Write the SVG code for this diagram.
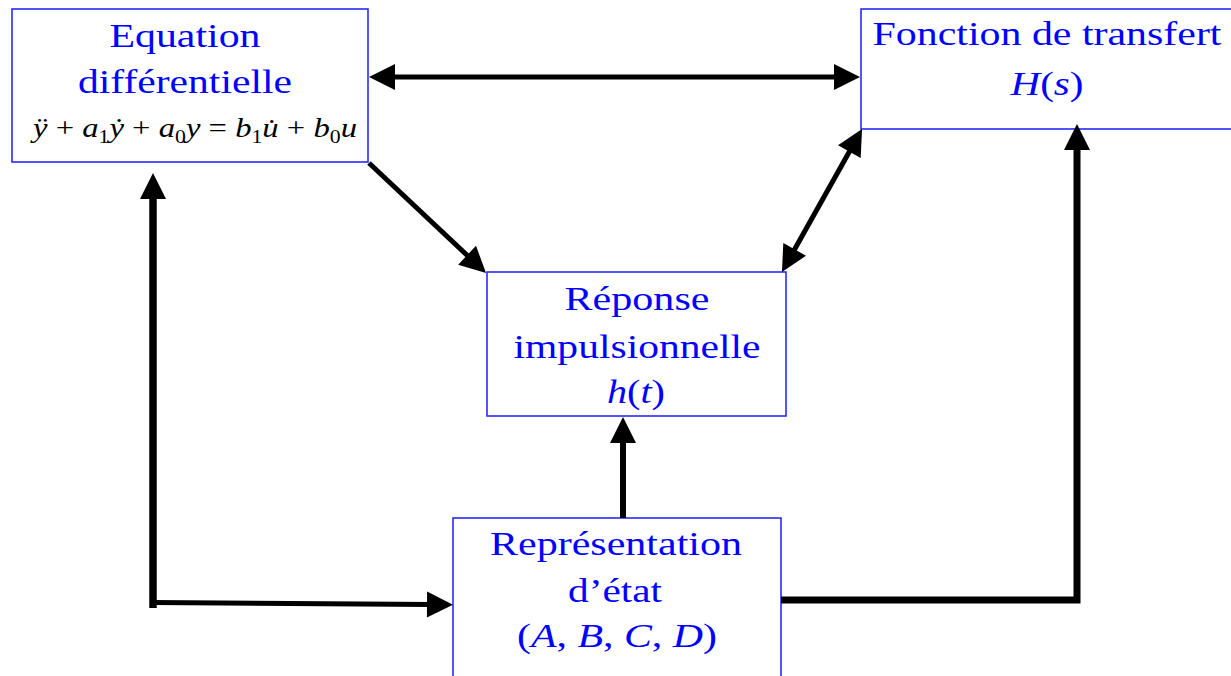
<svg xmlns="http://www.w3.org/2000/svg" width="1231" height="676" viewBox="0 0 1231 676">
  <style>
    .box { fill: #ffffff; stroke: #2a2aff; stroke-width: 1.6; }
    .lbl { font-family: "Liberation Serif", "Times New Roman", serif; font-size: 33px; fill: #0000ff; text-anchor: middle; }
    .math { font-family: "Liberation Serif", "Times New Roman", serif; font-size: 27px; fill: #000000; }
    .it { font-style: italic; }
    .sub { font-size: 18px; }
    .wire { fill: none; stroke: #000000; stroke-linejoin: miter; stroke-linecap: butt; }
  </style>
  <defs>
    <!-- arrowhead: tip sits 22px beyond the end of the line it caps -->
    <marker id="head" markerUnits="userSpaceOnUse" markerWidth="26" markerHeight="26"
            refX="4" refY="13" orient="auto-start-reverse" overflow="visible">
      <path d="M0,0 L26,13 L0,26 Z" fill="#000000"/>
    </marker>
  </defs>

  <rect x="0" y="0" width="1231" height="676" fill="#ffffff"/>

  <!-- differential equation -->
  <g id="node-equation">
    <rect class="box" x="12" y="9" width="356" height="153"/>
    <text class="lbl" x="185" y="47" textLength="151" lengthAdjust="spacingAndGlyphs">Equation</text>
    <text class="lbl" x="185" y="93" textLength="214" lengthAdjust="spacingAndGlyphs">différentielle</text>
    <text class="math" x="33" y="137" textLength="324" lengthAdjust="spacingAndGlyphs"><tspan class="it">ÿ</tspan> + <tspan class="it">a</tspan><tspan class="sub" dy="6">1</tspan><tspan class="it" dy="-6">ẏ</tspan> + <tspan class="it">a</tspan><tspan class="sub" dy="6">0</tspan><tspan class="it" dy="-6">y</tspan> = <tspan class="it">b</tspan><tspan class="sub" dy="6">1</tspan><tspan class="it" dy="-6">u̇</tspan> + <tspan class="it">b</tspan><tspan class="sub" dy="6">0</tspan><tspan class="it" dy="-6">u</tspan></text>
  </g>

  <!-- transfer function -->
  <g id="node-transfer">
    <rect class="box" x="861" y="9" width="380" height="120"/>
    <text class="lbl" x="1047" y="45" textLength="349" lengthAdjust="spacingAndGlyphs">Fonction de transfert</text>
    <text class="lbl" x="1047" y="95" textLength="73" lengthAdjust="spacingAndGlyphs"><tspan class="it">H</tspan>(<tspan class="it">s</tspan>)</text>
  </g>

  <!-- impulse response -->
  <g id="node-impulse">
    <rect class="box" x="487" y="272" width="299" height="144"/>
    <text class="lbl" x="637" y="310" textLength="145" lengthAdjust="spacingAndGlyphs">Réponse</text>
    <text class="lbl" x="637" y="358" textLength="247" lengthAdjust="spacingAndGlyphs">impulsionnelle</text>
    <text class="lbl" x="636" y="403" textLength="58" lengthAdjust="spacingAndGlyphs"><tspan class="it">h</tspan>(<tspan class="it">t</tspan>)</text>
  </g>

  <!-- state-space representation -->
  <g id="node-state">
    <rect class="box" x="453" y="518" width="328" height="170"/>
    <text class="lbl" x="616" y="555" textLength="252" lengthAdjust="spacingAndGlyphs">Représentation</text>
    <text class="lbl" x="615" y="602" textLength="94" lengthAdjust="spacingAndGlyphs">d’état</text>
    <text class="lbl" x="617" y="647" textLength="200" lengthAdjust="spacingAndGlyphs">(<tspan class="it">A</tspan>, <tspan class="it">B</tspan>, <tspan class="it">C</tspan>, <tspan class="it">D</tspan>)</text>
  </g>

  <g id="connectors">
    <!-- equation <-> transfer function -->
    <line class="wire" x1="391" y1="77" x2="838" y2="77" stroke-width="5"
          marker-start="url(#head)" marker-end="url(#head)"/>
    <!-- equation -> impulse response -->
    <line class="wire" x1="369" y1="163" x2="470" y2="258" stroke-width="5" marker-end="url(#head)"/>
    <!-- impulse response <-> transfer function -->
    <line class="wire" x1="792.7" y1="252.8" x2="851.3" y2="148.2" stroke-width="5"
          marker-start="url(#head)" marker-end="url(#head)"/>
    <!-- state -> equation (vertical leg) -->
    <line class="wire" x1="153" y1="608" x2="153" y2="195" stroke-width="7.5" marker-end="url(#head)"/>
    <!-- state <- equation (horizontal leg) -->
    <line class="wire" x1="153" y1="602.5" x2="431" y2="604.5" stroke-width="5" marker-end="url(#head)"/>
    <!-- state -> impulse response -->
    <line class="wire" x1="623" y1="518" x2="623" y2="439" stroke-width="6" marker-end="url(#head)"/>
    <!-- state -> transfer function -->
    <polyline class="wire" points="781,600 1077,600 1077,146" stroke-width="7" marker-end="url(#head)"/>
  </g>
</svg>
